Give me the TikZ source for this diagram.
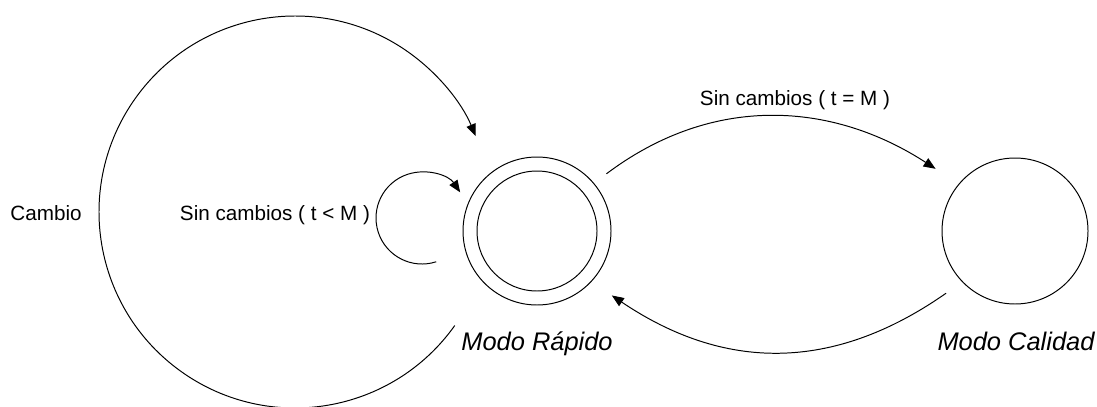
\documentclass[tikz,border=0pt]{standalone}
\usepackage{fontspec}
\setmainfont{Liberation Sans}
\usetikzlibrary{arrows.meta,positioning}

\begin{document}
\begin{tikzpicture}[line width=0.7pt, >={Triangle[length=0.3cm,width=0.24cm]},
    every node/.style={font=\fontsize{14.7}{17}\selectfont},
    modo/.style={circle, draw, inner sep=0pt, outer sep=0pt, minimum size=#1},
    modoname/.style={anchor=base, font=\fontsize{18.1}{21}\selectfont\itshape}]
  \useasboundingbox (0,0) rectangle (27.425,10.15);
  % States (Modo Rapido is the double circle)
  \node[modo=3.7cm] (rapido) at (13.425,4.375) {};
  \node[modo=3.0cm] (rapido in) at (rapido) {};
  \node[modo=3.65cm] (calidad) at (25.375,4.375) {};
  % State names under the circles
  \node[modoname] (rapido name) at (13.425,1.4) {Modo Rápido};
  \node[modoname] (calidad name) at (25.4,1.4) {Modo Calidad};
  % Transitions between the two modes
  \draw[->, shorten <=0.4cm, shorten >=0.7cm] (rapido.40)
      to[out=37, in=147, looseness=1.05] (calidad.140);
  \draw[->, shorten <=0.5cm, shorten >=0.625cm] (calidad.224)
      to[out=215, in=326, looseness=1.1] (rapido.317);
  % Arcs coming back into Modo Rapido
  \coordinate (loop c) at (10.55,4.7);
  \coordinate (cambio c) at (7.375,4.85);
  \draw[->] (loop c) ++(-72:1.15) arc[start angle=-72, end angle=-326, radius=1.15];
  \draw[->] (cambio c) ++(-35.4:4.9) arc[start angle=-35.4, end angle=-337.2, radius=4.9];
  % Transition labels
  \node[anchor=base] (cambio) at (1.15,4.65) {Cambio};
  \node[anchor=base] (sin menor) at (6.875,4.65) {Sin cambios ( t < M )};
  \node[anchor=base] (sin igual) at (19.875,7.525) {Sin cambios ( t = M )};
\end{tikzpicture}
\end{document}
